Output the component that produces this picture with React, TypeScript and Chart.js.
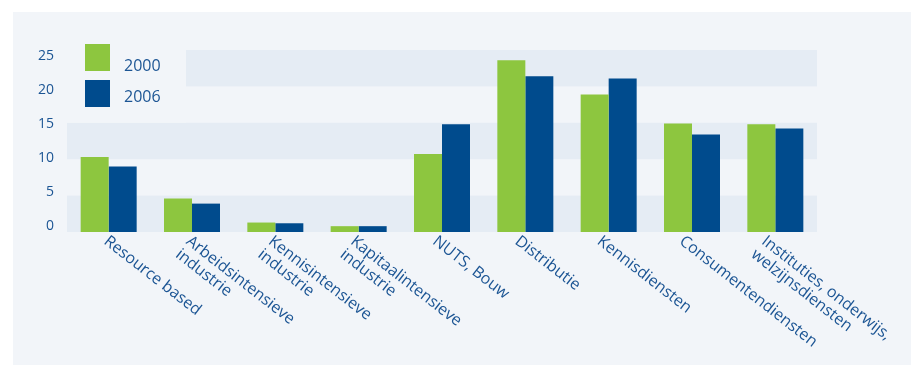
import React, { useEffect, useRef } from "react";
import { Chart, registerables } from "chart.js";
Chart.register(...registerables);

const categories: string[][] = [
  ["Resource based"],
  ["Arbeidsintensieve", "industrie"],
  ["Kennisintensieve", "industrie"],
  ["Kapitaalintensieve", "industrie"],
  ["NUTS, Bouw"],
  ["Distributie"],
  ["Kennisdiensten"],
  ["Consumentendiensten"],
  ["Instituties, onderwijs,", "welzijnsdiensten"],
];
const seriesLabels = ["2000", "2006"];
const values2000 = [10.3, 4.6, 1.3, 0.8, 10.7, 23.6, 18.9, 14.9, 14.8];
const values2006 = [9.0, 3.9, 1.2, 0.8, 14.8, 21.4, 21.1, 13.4, 14.2];
const yTicks = [0, 5, 10, 15, 20, 25];
const bands: [number, number][] = [[0, 5], [10, 15], [20, 25]];

const GREEN = "#8dc63f";
const BLUE = "#004b8d";
const PANEL = "#f2f5f9";
const BAND = "#e5ecf4";
const TEXT = "#1c5594";
const FONT = "'Open Sans', 'Noto Sans', sans-serif";

const decorPlugin = {
  id: "decor",
  beforeDatasetsDraw(chart: any) {
    const { ctx, chartArea } = chart;
    const y = chart.scales.y;
    ctx.save();
    ctx.fillStyle = BAND;
    for (const [a, b] of bands) {
      const top = y.getPixelForValue(b);
      const bot = y.getPixelForValue(a);
      ctx.fillRect(chartArea.left, top, chartArea.right - chartArea.left, bot - top);
    }
    // legend box background
    ctx.fillStyle = PANEL;
    ctx.fillRect(chartArea.left, chartArea.top, 186 - chartArea.left, y.getPixelForValue(15) - chartArea.top);
    // legend
    const colors = chart.data.datasets.map((d: any) => d.backgroundColor);
    const labels = chart.data.datasets.map((d: any) => d.label);
    ctx.font = `16px ${FONT}`;
    ctx.textAlign = "left";
    ctx.textBaseline = "alphabetic";
    for (let i = 0; i < labels.length; i++) {
      const top = 44 + i * 36;
      ctx.fillStyle = colors[i];
      ctx.fillRect(85, top, 25, 27);
      ctx.fillStyle = TEXT;
      ctx.fillText(labels[i], 124, top + 27 + (i === 0 ? 0 : -5));
    }
    ctx.restore();
  },
  afterDraw(chart: any) {
    const { ctx, chartArea } = chart;
    const x = chart.scales.x;
    ctx.save();
    ctx.font = `16px ${FONT}`;
    ctx.fillStyle = TEXT;
    ctx.textAlign = "left";
    ctx.textBaseline = "top";
    const ang = (38 * Math.PI) / 180;
    categories.forEach((lines, i) => {
      const px = x.getPixelForValue(i);
      ctx.save();
      ctx.translate(px + 2 - i * 1.1, chartArea.bottom + 1);
      ctx.rotate(ang);
      lines.forEach((ln, li) => ctx.fillText(ln, 0, li * 17));
      ctx.restore();
    });
    ctx.restore();
  },
};

export default function App() {
  const ref = useRef<HTMLCanvasElement>(null);
  useEffect(() => {
    if (!ref.current) return;
    const chart = new Chart(ref.current, {
      type: "bar",
      data: {
        labels: categories.map((c) => c.join(" ")),
        datasets: [
          { label: seriesLabels[0], data: values2000, backgroundColor: GREEN, borderWidth: 0, yAxisID: "y" },
          { label: seriesLabels[1], data: values2006, backgroundColor: BLUE, borderWidth: 0, yAxisID: "y" },
        ],
      },
      options: {
        responsive: false,
        animation: false,
        layout: { padding: { left: 38, right: 94, top: 50, bottom: 133 } },
        datasets: { bar: { categoryPercentage: 0.672, barPercentage: 1.0 } },
        plugins: { legend: { display: false }, tooltip: { enabled: false } },
        scales: {
          x: { display: false },
          y: { display: false, min: 0, max: 25 },
          y2: {
            type: "linear",
            position: "left",
            min: -0.88,
            max: 25.88,
            grid: { display: false, drawTicks: false },
            border: { display: false },
            ticks: { padding: 13, color: TEXT, font: { family: FONT, size: 14 } },
            afterBuildTicks: (a: any) => {
              a.ticks = yTicks.map((v) => ({ value: v }));
            },
            afterFit: (a: any) => {
              a.width = 29;
            },
          },
        },
      } as any,
      plugins: [decorPlugin],
    });
    return () => chart.destroy();
  }, []);
  return (
    <div style={{ position: "fixed", left: 0, top: 0, width: 911, height: 365, background: "#ffffff" }}>
      <div style={{ position: "absolute", left: 13, top: 12, right: 0, bottom: 0, background: PANEL }} />
      <canvas ref={ref} width={911} height={365} style={{ position: "absolute", left: 0, top: 0, width: 911, height: 365 }} />
    </div>
  );
}
